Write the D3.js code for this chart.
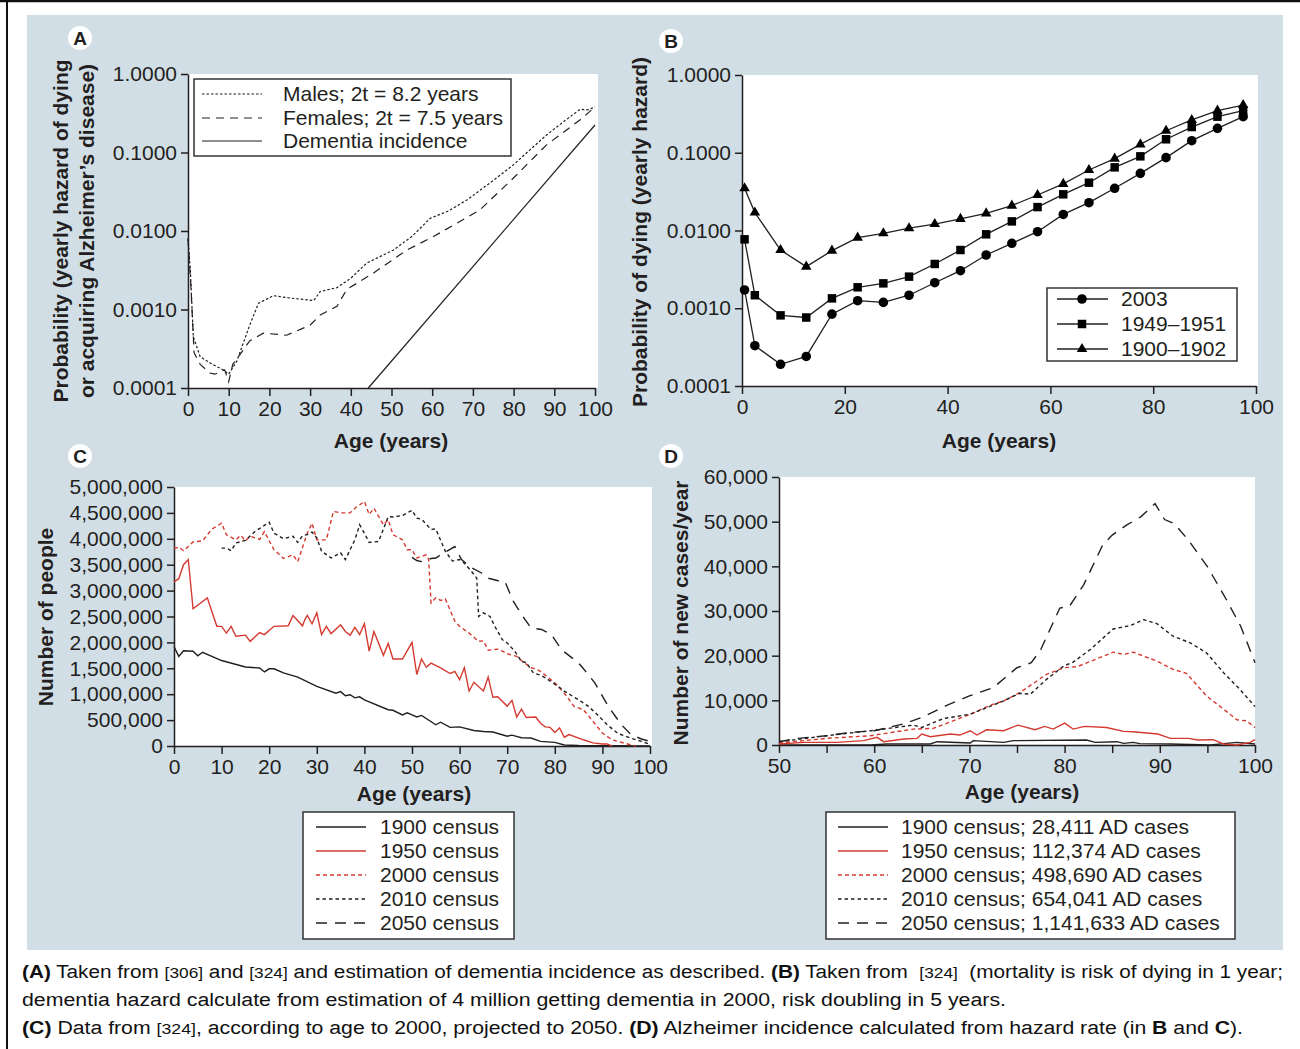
<!DOCTYPE html>
<html>
<head>
<meta charset="utf-8">
<script src="https://cdn.jsdelivr.net/npm/d3@7"></script>
<style>
  body { margin: 0; background: #fff; }
  svg { display: block; }
  text { font-family: "Liberation Sans", Arial, sans-serif; }
</style>
</head>
<body>
<svg width="1300" height="1049"></svg>
<script>
const ink = '#231f20', red = '#d43a30'

// ---- panel A: yearly hazard (log) ----
const aMales = [[0, 0.008], [0.6, 0.003], [1.3, 0.00045], [3, 0.00025], [6, 0.0002], [8.7, 0.00017], [10, 0.00015], [12, 0.00022], [15, 0.0006], [17.3, 0.0012], [21, 0.0015], [25, 0.0014], [30.9, 0.0013], [32.5, 0.0017], [36.6, 0.0019], [40, 0.0025], [43.9, 0.0039], [50.4, 0.0057], [55, 0.0085], [59.5, 0.0145], [64, 0.018], [68.5, 0.0248], [75, 0.044], [80, 0.07], [84, 0.108], [88.1, 0.167], [92, 0.24], [96.3, 0.355], [98.3, 0.35], [100, 0.38]]
const aFemales = [[0, 0.008], [0.7, 0.002], [1.5, 0.00028], [3, 0.0002], [5.4, 0.000155], [6.6, 0.00015], [9, 0.00017], [10, 0.00012], [11, 0.0002], [15.2, 0.0004], [18.5, 0.0005], [24.2, 0.00047], [30, 0.00063], [32.5, 0.00085], [36.6, 0.0011], [39, 0.0018], [45.5, 0.0029], [53.7, 0.0057], [60.3, 0.0085], [71.7, 0.0185], [79.9, 0.047], [88.1, 0.125], [96.3, 0.26], [100, 0.38]]
const aDementia = [[44.3, 0.0001], [100, 0.224]]
const logTicks = [0.0001, 0.001, 0.01, 0.1, 1]
const aAgeTicks = [0, 10, 20, 30, 40, 50, 60, 70, 80, 90, 100]

// ---- panel B: probability of dying, three life tables ----
const bAges = [0.5, 2.5, 7.5, 12.5, 17.5, 22.5, 27.5, 32.5, 37.5, 42.5, 47.5, 52.5, 57.5, 62.5, 67.5, 72.5, 77.5, 82.5, 87.5, 92.5, 97.5]
const b2003 = [0.00172, 0.00033, 0.00019, 0.00024, 0.00084, 0.00125, 0.00119, 0.00147, 0.00213, 0.00304, 0.00484, 0.00684, 0.00966, 0.0161, 0.0228, 0.0349, 0.0543, 0.0865, 0.143, 0.206, 0.291]
const b1950 = [0.0077, 0.00147, 0.00081, 0.00076, 0.00134, 0.00186, 0.00209, 0.00255, 0.00371, 0.00561, 0.00893, 0.0131, 0.02, 0.0292, 0.0412, 0.0649, 0.0899, 0.149, 0.214, 0.291, 0.348]
const b1900 = [0.0349, 0.017, 0.0056, 0.00343, 0.0055, 0.0081, 0.0092, 0.0107, 0.0121, 0.0141, 0.0166, 0.0209, 0.0286, 0.0397, 0.06, 0.084, 0.128, 0.192, 0.264, 0.348, 0.411]
const bAgeTicks = [0, 20, 40, 60, 80, 100]

// ---- panel C: number of people by age (millions) ----
const c1900 = [[0, 1.92], [1, 1.73], [2, 1.84], [4, 1.83], [5, 1.74], [6, 1.81], [10, 1.65], [15, 1.525], [18, 1.506], [19, 1.43], [20, 1.49], [21, 1.49], [23, 1.41], [26, 1.33], [30, 1.15], [34, 1.02], [35, 1.05], [36, 0.97], [37, 0.99], [38, 0.93], [39, 0.95], [40, 0.89], [45, 0.7], [46, 0.69], [48, 0.6], [49, 0.64], [50, 0.6], [51, 0.56], [52, 0.59], [55, 0.41], [56, 0.46], [58, 0.36], [60, 0.37], [63, 0.3], [65, 0.28], [67, 0.27], [70, 0.19], [71, 0.21], [73, 0.16], [75, 0.155], [77, 0.09], [80, 0.07], [82, 0.02], [85, 0.01], [100, 0]]
const c1950 = [[0, 3.17], [1, 3.23], [2, 3.5], [3, 3.6], [4, 2.65], [7, 2.86], [9, 2.31], [10, 2.31], [11, 2.18], [12, 2.31], [13, 2.12], [15, 2.14], [16, 2.02], [18, 2.19], [19, 2.15], [21, 2.31], [24, 2.32], [25, 2.52], [27, 2.32], [27.5, 2.44], [28, 2.52], [29, 2.36], [30, 2.57], [31, 2.15], [32, 2.31], [33, 2.17], [35, 2.34], [36, 2.21], [37, 2.14], [38, 2.29], [39, 2.15], [40, 2.36], [41, 1.83], [42, 2.21], [44, 1.75], [45, 1.98], [46, 1.68], [48, 1.68], [50, 2.0], [51, 1.38], [52, 1.68], [53, 1.52], [54, 1.6], [56, 1.51], [58, 1.4], [59, 1.44], [60, 1.28], [61, 1.51], [62, 1.06], [63, 1.23], [65, 1.06], [66, 1.33], [67, 0.94], [68, 0.95], [70, 0.77], [71, 0.88], [72, 0.56], [73, 0.71], [74, 0.55], [76, 0.56], [77, 0.44], [78, 0.37], [79, 0.36], [80, 0.26], [81, 0.35], [82, 0.17], [83, 0.22], [86, 0.12], [88, 0.06], [90, 0.04], [91, 0.04], [92, 0]]
const c2000 = [[0, 3.81], [1, 3.84], [2, 3.77], [3, 3.85], [4, 3.94], [6, 3.96], [8, 4.19], [10, 4.3], [11, 4.08], [13, 3.98], [14, 4.07], [15, 3.96], [16, 4.05], [18, 3.99], [19, 4.14], [20, 3.96], [21, 3.79], [23, 3.62], [25, 3.69], [26, 3.56], [28, 4.11], [29, 4.3], [30, 3.98], [32, 3.98], [33.5, 4.53], [35, 4.5], [37, 4.5], [38, 4.59], [40, 4.72], [41, 4.47], [42, 4.59], [44, 4.27], [45, 4.37], [46, 4.08], [48, 3.98], [49, 3.79], [50, 3.79], [51, 3.63], [53, 3.69], [53.5, 3.6], [54, 2.76], [55, 2.86], [56, 2.81], [57, 2.84], [59, 2.41], [60, 2.31], [62, 2.18], [64, 2.02], [65, 2.03], [66, 1.85], [68, 1.87], [69, 1.83], [70, 1.78], [72, 1.73], [73, 1.65], [75, 1.51], [76, 1.49], [77, 1.44], [80, 1.22], [82, 1.02], [84, 0.77], [86, 0.7], [88, 0.48], [90, 0.25], [92, 0.12], [95, 0.045], [97, 0]]
const c2010 = [[10, 3.82], [11, 3.82], [12, 3.77], [13, 3.92], [15, 3.97], [17, 4.14], [19, 4.26], [20, 4.32], [21, 4.11], [23, 4.0], [25, 4.05], [26, 3.93], [27, 4.06], [28, 4.08], [29, 4.13], [30, 4.02], [31, 3.76], [33, 3.63], [35, 3.73], [36, 3.6], [38, 3.98], [39, 4.27], [40, 4.11], [41, 3.93], [43, 3.95], [45, 4.43], [46, 4.42], [48, 4.45], [50, 4.55], [51, 4.4], [52, 4.38], [54, 4.18], [55, 4.19], [57, 3.76], [58.5, 3.57], [60, 3.6], [61, 3.53], [62.5, 3.37], [63.6, 3.24], [64, 2.5], [65, 2.57], [66.4, 2.5], [67.4, 2.31], [69, 2.05], [70, 1.99], [71.6, 1.83], [73, 1.63], [74, 1.61], [75.5, 1.41], [77.2, 1.36], [78.6, 1.28], [80.7, 1.15], [82, 1.06], [85, 0.89], [87, 0.77], [89, 0.6], [91, 0.41], [93.3, 0.24], [96, 0.15], [98.2, 0.09], [100, 0.03]]
const c2050 = [[50, 3.64], [51, 3.58], [52, 3.56], [54, 3.62], [55, 3.63], [56, 3.69], [59, 3.85], [60.4, 3.6], [62.5, 3.44], [64.6, 3.34], [66, 3.24], [68.1, 3.19], [69.5, 3.18], [71.3, 2.79], [73, 2.54], [75, 2.28], [77.2, 2.25], [79.3, 2.15], [81.4, 1.86], [85, 1.6], [85.6, 1.54], [88.4, 1.22], [91.2, 0.77], [94, 0.41], [96, 0.22], [98.2, 0.135], [100, 0.09]]
const cPeopleTicks = [0, 0.5, 1, 1.5, 2, 2.5, 3, 3.5, 4, 4.5, 5]
const cAgeTicks = [0, 10, 20, 30, 40, 50, 60, 70, 80, 90, 100]

// ---- panel D: new AD cases per year ----
const d1900 = [[50, 0], [59.6, 0], [61.3, 220], [65.9, 220], [66.6, 740], [70.1, 450], [70.4, 970], [73.6, 590], [74.6, 970], [82.3, 1110], [83.2, 590], [85.5, 740], [86.2, 370], [87.2, 590], [87.9, 300], [91.1, 220], [95.3, 0], [98.1, 590], [100, 220]]
const d1950 = [[50, 220], [52.6, 590], [56.1, 590], [58.9, 970], [60.3, 1710], [61, 740], [63.1, 1340], [64.5, 1480], [65, 2450], [65.9, 1860], [68, 2450], [69, 2230], [70.1, 3190], [70.8, 2230], [71.8, 3410], [73.6, 3190], [75.1, 4450], [76.9, 3410], [77.9, 4160], [78.8, 3560], [80, 4900], [80.9, 3560], [82.1, 4160], [84.4, 3930], [86.2, 3040], [87.2, 2970], [89.8, 2450], [91.1, 1480], [93, 1480], [94, 1110], [95.6, 1190], [96.7, 220], [98.1, 0], [99.5, 590], [100, 1190]]
const d2000 = [[50, 450], [55, 1480], [59.6, 2080], [64.1, 3560], [66.2, 3710], [70.1, 6900], [72.2, 8910], [73.6, 9870], [75.3, 11730], [78.1, 15810], [79.9, 17300], [81.3, 17520], [83.4, 19300], [85.1, 20790], [86.2, 20270], [87.2, 20790], [88.3, 19900], [89.7, 18780], [91.4, 16930], [92.8, 16040], [94.9, 10990], [96.7, 8020], [98.1, 5640], [99.1, 5420], [100, 3930]]
const d2010 = [[50, 740], [55, 2080], [59.6, 3190], [64.1, 4450], [65, 3930], [67.3, 5940], [70.1, 6900], [73.6, 9870], [75.3, 11580], [76.4, 11360], [78.1, 14700], [79.9, 17670], [80.9, 18560], [82.7, 21380], [85.1, 25980], [86.9, 26730], [88.3, 28060], [89.7, 27170], [91.4, 24350], [93.2, 22870], [94.9, 20640], [96.7, 16180], [98.4, 12470], [100, 8610]]
const d2050 = [[50, 740], [52, 1480], [55, 2080], [57.5, 2820], [60, 3190], [63, 4680], [65, 6160], [67.5, 8760], [70, 10990], [72.5, 12840], [75, 17300], [76.5, 18410], [77.5, 21380], [79.5, 30660], [80.5, 31030], [82, 35860], [84, 44770], [85, 47000], [86.5, 49220], [88, 51080], [89.5, 54050], [90.5, 50480], [91.5, 49590], [93, 45880], [95, 39940], [97, 32520], [98.5, 26580], [100, 18410]]
const dCaseTicks = [0, 10000, 20000, 30000, 40000, 50000, 60000]
const dAgeTicks = [50, 55, 60, 65, 70, 75, 80, 85, 90, 95, 100]

const censusNames = ['1900 census', '1950 census', '2000 census', '2010 census', '2050 census']
const adCases = ['28,411', '112,374', '498,690', '654,041', '1,141,633']

// line styles shared by C and D
const censusStyle = [
  { color: ink, dash: null },
  { color: red, dash: null },
  { color: red, dash: '4,3' },
  { color: ink, dash: '3.5,3' },
  { color: ink, dash: '11,8' }
]

const svg = d3.select('svg')

// frame and background
svg.append('rect').attr('x', 27).attr('y', 15).attr('width', 1256).attr('height', 935).attr('fill', '#d2dee6')
svg.append('line').attr('x1', 0).attr('x2', 1300).attr('y1', 1).attr('y2', 1).attr('stroke', '#111').attr('stroke-width', 2.5)
svg.append('line').attr('x1', 7).attr('x2', 7).attr('y1', 0).attr('y2', 1049).attr('stroke', '#111').attr('stroke-width', 2)

function styleAxis (g) {
  g.select('.domain').attr('stroke', ink).attr('stroke-width', 1.5)
  g.selectAll('.tick line').attr('stroke', ink).attr('stroke-width', 1.5)
  g.selectAll('.tick text').attr('fill', ink).attr('font-size', 21)
    .attr('font-family', '"Liberation Sans", Arial, sans-serif')
}

function frame (x, y, right, xTicks, xFmt, yTicks, yFmt) {
  const [x0] = x.range(), [yb, yt] = y.range()
  svg.append('rect').attr('x', x0).attr('y', yt).attr('width', right - x0).attr('height', yb - yt).attr('fill', '#fff')
  svg.append('g').attr('transform', `translate(0,${yb})`)
    .call(d3.axisBottom(x).tickValues(xTicks).tickFormat(xFmt).tickSize(8).tickSizeOuter(0).tickPadding(5))
    .call(styleAxis)
  svg.append('g').attr('transform', `translate(${x0},0)`)
    .call(d3.axisLeft(y).tickValues(yTicks).tickFormat(yFmt).tickSize(7).tickSizeOuter(0).tickPadding(4))
    .call(styleAxis)
}

function title (txt, x, y, rot) {
  svg.append('text').attr('transform', `translate(${x},${y}) rotate(${rot || 0})`)
    .attr('text-anchor', 'middle').attr('font-size', 21).attr('font-weight', 'bold').attr('fill', ink).text(txt)
}

function badge (letter, cx, cy) {
  svg.append('circle').attr('cx', cx).attr('cy', cy).attr('r', 12).attr('fill', '#fff')
  svg.append('text').attr('x', cx).attr('y', cy + 7).attr('text-anchor', 'middle')
    .attr('font-size', 19).attr('font-weight', 'bold').attr('fill', ink).text(letter)
}

function path (data, x, y, color, dash, w) {
  svg.append('path').datum(data)
    .attr('d', d3.line().x(d => x(d[0])).y(d => y(d[1])))
    .attr('fill', 'none').attr('stroke', color).attr('stroke-width', w || 1.3)
    .attr('stroke-dasharray', dash)
}

function legendBox (x0, y0, x1, y1) {
  svg.append('rect').attr('x', x0).attr('y', y0).attr('width', x1 - x0).attr('height', y1 - y0)
    .attr('fill', '#fff').attr('stroke', '#333').attr('stroke-width', 1.5)
}

function legendRow (lx0, lx1, tx, cy, txt, color, dash, w) {
  svg.append('line').attr('x1', lx0).attr('x2', lx1).attr('y1', cy).attr('y2', cy)
    .attr('stroke', color).attr('stroke-width', w || 1.3).attr('stroke-dasharray', dash)
  svg.append('text').attr('x', tx).attr('y', cy + 7).attr('font-size', 21).attr('fill', ink).text(txt)
}

const fmt4 = d3.format('.4f')

// ===== A =====
const xA = d3.scaleLinear().domain([0, 100]).range([188, 595])
const yA = d3.scaleLog().domain([0.0001, 1]).range([388, 74])
frame(xA, yA, 598, aAgeTicks, d => d, logTicks, fmt4)
path(aMales, xA, yA, ink, '2.5,2', 1.2)
path(aFemales, xA, yA, ink, '8,6', 1.2)
path(aDementia, xA, yA, ink, null, 1.2)
legendBox(194, 79, 511, 156)
legendRow(202, 262, 283, 94, 'Males; 2t = 8.2 years', ink, '2.5,2', 1.2)
legendRow(202, 262, 283, 118, 'Females; 2t = 7.5 years', ink, '8,6', 1.2)
legendRow(202, 262, 283, 141, 'Dementia incidence', ink, null, 1.2)
title('Age (years)', 391, 448)
title('Probability (yearly hazard of dying', 68, 231, -90)
title('or acquiring Alzheimer\u2019s disease)', 94, 231, -90)
badge('A', 80, 38)

// ===== B =====
const xB = d3.scaleLinear().domain([0, 100]).range([742, 1256])
const yB = d3.scaleLog().domain([0.0001, 1]).range([386, 75])
frame(xB, yB, 1258, bAgeTicks, d => d, logTicks, fmt4)
const bSeries = [
  { name: '2003', vals: b2003, sym: d3.symbolCircle, size: 72 },
  { name: '1949\u20131951', vals: b1950, sym: d3.symbolSquare, size: 72 },
  { name: '1900\u20131902', vals: b1900, sym: d3.symbolTriangle, size: 48 }
]
bSeries.forEach(s => {
  const pts = bAges.map((a, i) => [a, s.vals[i]])
  path(pts, xB, yB, ink, null, 1.3)
  svg.append('g').selectAll('path').data(pts).join('path')
    .attr('transform', d => `translate(${xB(d[0])},${yB(d[1])})`)
    .attr('d', d3.symbol(s.sym, s.size)).attr('fill', '#000')
})
legendBox(1047, 288, 1237, 361)
bSeries.forEach((s, i) => {
  const cy = 299 + i * 25
  legendRow(1057, 1108, 1121, cy, s.name, ink, null, 1.3)
  svg.append('path').attr('transform', `translate(1082,${cy})`).attr('d', d3.symbol(s.sym, s.size)).attr('fill', '#000')
})
title('Age (years)', 999, 448)
title('Probability of dying (yearly hazard)', 647, 232, -90)
badge('B', 671, 41)

// ===== C =====
const xC = d3.scaleLinear().domain([0, 100]).range([174, 650])
const yC = d3.scaleLinear().domain([0, 5]).range([746, 487])
frame(xC, yC, 652, cAgeTicks, d => d, cPeopleTicks, d => d3.format(',')(Math.round(d * 1e6)))
const cData = [c1900, c1950, c2000, c2010, c2050]
cData.forEach((s, i) => path(s, xC, yC, censusStyle[i].color, censusStyle[i].dash, 1.4))
legendBox(303, 812, 514, 939)
censusNames.forEach((n, i) => legendRow(316, 366, 380, 827 + i * 24, n, censusStyle[i].color, censusStyle[i].dash, 1.4))
title('Age (years)', 414, 801)
title('Number of people', 53, 617, -90)
badge('C', 80, 456)

// ===== D =====
const xD = d3.scaleLinear().domain([50, 100]).range([779, 1255])
const yD = d3.scaleLinear().domain([0, 60000]).range([745, 477])
frame(xD, yD, 1255, dAgeTicks, d => d % 10 === 0 ? d : '', dCaseTicks, d3.format(','))
const dData = [d1900, d1950, d2000, d2010, d2050]
dData.forEach((s, i) => path(s, xD, yD, censusStyle[i].color, censusStyle[i].dash, 1.4))
legendBox(826, 812, 1235, 939)
censusNames.forEach((n, i) => legendRow(838, 888, 901, 827 + i * 24, `${n}; ${adCases[i]} AD cases`, censusStyle[i].color, censusStyle[i].dash, 1.4))
title('Age (years)', 1022, 799)
title('Number of new cases/year', 688, 613, -90)
badge('D', 671, 456)

// ===== caption =====
const captionLines = [
  { y: 978, w: 1261, parts: [['(A)', 'b'], [' Taken from ', ''], ['[306]', 's'], [' and ', ''], ['[324]', 's'], [' and estimation of dementia incidence as described. ', ''], ['(B)', 'b'], [' Taken from  ', ''], ['[324]', 's'], ['  (mortality is risk of dying in 1 year;', '']] },
  { y: 1006, w: 984, parts: [['dementia hazard calculate from estimation of 4 million getting dementia in 2000, risk doubling in 5 years.', '']] },
  { y: 1034, w: 1221, parts: [['(C)', 'b'], [' Data from ', ''], ['[324]', 's'], [', according to age to 2000, projected to 2050. ', ''], ['(D)', 'b'], [' Alzheimer incidence calculated from hazard rate (in ', ''], ['B', 'b'], [' and ', ''], ['C', 'b'], [').', '']] }
]
captionLines.forEach(l => {
  const t = svg.append('text').attr('x', 22).attr('y', l.y)
    .attr('font-family', '"Open Sans", sans-serif').attr('font-size', 18).attr('fill', '#111')
    .attr('textLength', l.w).attr('lengthAdjust', 'spacingAndGlyphs')
    .style('white-space', 'pre')
  l.parts.forEach(p => {
    t.append('tspan').text(p[0])
      .attr('font-weight', p[1] === 'b' ? 'bold' : null)
      .attr('font-size', p[1] === 's' ? 15 : null)
  })
})
</script>
</body>
</html>
